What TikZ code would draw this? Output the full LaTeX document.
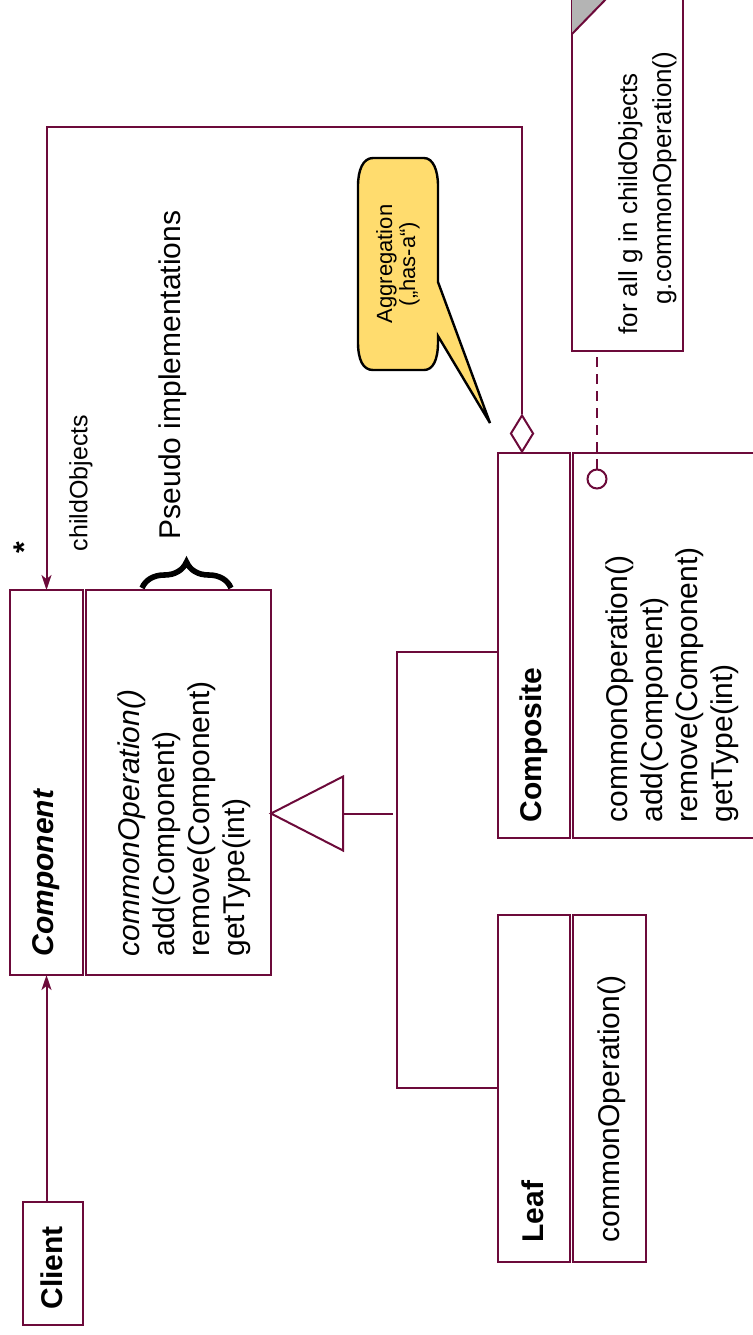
\documentclass[tikz,border=0pt]{standalone}
\usepackage{fontspec}
\setmainfont{Liberation Sans}
\usetikzlibrary{arrows.meta,shapes.geometric,decorations.pathreplacing}
\definecolor{umlred}{RGB}{108,10,58}
\definecolor{calloutyellow}{RGB}{255,220,110}
\definecolor{foldgray}{RGB}{180,180,180}
\begin{document}
\begin{tikzpicture}[x=0.5pt, y=-0.5pt,
  umlbox/.style={shape=rectangle, draw=umlred, line width=1pt, fill=white, inner sep=0pt, outer sep=0pt},
  umltitle/.style={rotate=90, anchor=west, inner sep=0pt, font=\fontsize{15}{18}\selectfont\bfseries},
  umlops/.style={rotate=90, anchor=north west, inner sep=0pt, align=left, font=\fontsize{15}{17.5}\selectfont},
  umlline/.style={draw=umlred, line width=1pt},
  umlarrow/.style={umlline, -{Stealth[length=7.5pt, width=5pt, inset=2pt]}}]
\useasboundingbox (0,0) rectangle (753,1335);
\clip (0,0) rectangle (753,1335);
\node[umlbox, minimum width=36.5pt, minimum height=192.5pt] (cmpName) at (46.5,782.5) {};
\node[umlbox, minimum width=92.5pt, minimum height=192.5pt] (cmpOps) at (178.5,782.5) {};
\node[umlbox, minimum width=36pt, minimum height=192.5pt] (cpsName) at (534,645.5) {};
\node[umlbox, minimum width=93.5pt, minimum height=192.5pt] (cpsOps) at (666.5,645.5) {};
\node[umlbox, minimum width=36pt, minimum height=173.5pt] (leafName) at (534,1088.5) {};
\node[umlbox, minimum width=36.5pt, minimum height=173.5pt] (leafOps) at (609.5,1088.5) {};
\node[umlbox, minimum width=30pt, minimum height=61.5pt] (client) at (53,1263.5) {};
\node[umlbox, minimum width=55.5pt, minimum height=176.5pt] (note) at (627.5,174.5) {};
\node[umltitle] (cmpTitle) at (46.5,957) {\itshape Component};
\node[umltitle] (cpsTitle) at (534,823) {Composite};
\node[umltitle] (leafTitle) at (533,1243) {Leaf};
\node[umltitle] (clientTitle) at (52,1310) {Client};
\node[umlops] (cmpList) at (117,957) {\itshape commonOperation()\\add(Component)\\remove(Component)\\getType(int)};
\node[umlops] (cpsList) at (605,823) {commonOperation()\\add(Component)\\remove(Component)\\getType(int)};
\node[umlops] (leafList) at (597,1243) {commonOperation()};
\fill[foldgray] (572,-2) -- (607,-2) -- (572,34) -- cycle;
\draw[umlline] (607,-2) -- (572,34);
\node[rotate=90, anchor=north west, inner sep=0pt, align=left, font=\fontsize{13}{17}\selectfont] (noteText) at (618,335) {for all g in childObjects\\\hspace*{15pt}g.commonOperation()};
\node[shape=circle, draw=umlred, line width=1pt, fill=white, minimum size=9.5pt, inner sep=0pt] (cpsPort) at (597,479) {};
\draw[umlline, dash pattern=on 5pt off 3.5pt] (cpsPort) -- (note.south -| cpsPort);
\node[shape=diamond, draw=umlred, line width=1pt, fill=white, minimum width=11.5pt, minimum height=18.5pt, inner sep=0pt] (aggDiamond) at (522,433.5) {};
\coordinate (aggCorner) at (522,127);
\draw[umlarrow] (aggDiamond.north) -- (aggCorner) -| (cmpName.north);
\draw[umlarrow] (client.north -| cmpName.south) -- (cmpName.south);
\coordinate (genApex) at (271,813.5);
\coordinate (genBase) at (343,813.5);
\coordinate (hubMid) at (393,813.5);
\coordinate (hubTop) at (397,652);
\coordinate (hubBot) at (397,1088);
\draw[umlline, fill=white] (genApex) -- (343,776.5) -- (343,850.5) -- cycle;
\draw[umlline] (genBase) -- (hubMid);
\draw[umlline] (cpsName.west |- hubTop) -- (hubTop) -- (hubBot) -- (leafName.west |- hubBot);
\node[rotate=90, inner sep=0pt, font=\fontsize{12.5}{14}\selectfont] (childLbl) at (81,483) {childObjects};
\node[rotate=90, inner sep=0pt, font=\fontsize{15}{15}\selectfont\bfseries] (multLbl) at (24.5,548) {*};
\node[rotate=90, inner sep=0pt, font=\fontsize{15}{18}\selectfont] (pseudoLbl) at (172.5,375) {Pseudo implementations};
\draw[decorate, decoration={brace, amplitude=13pt}, line width=2.8pt] (142,588) -- (231,588);
\draw[line width=1.2pt, fill=calloutyellow] (373,158) -- (424,158) .. controls (433,158) and (438,170) .. (438,186) -- (438,282) -- (490,423) -- (438,336) -- (438,342) .. controls (438,360) and (433,370) .. (424,370) -- (373,370) .. controls (363,370) and (358,360) .. (358,342) -- (358,186) .. controls (358,170) and (363,158) .. (373,158) -- cycle;
\node[rotate=90, inner sep=0pt, align=center, font=\fontsize{11}{11.5}\selectfont] (aggNote) at (398,264) {Aggregation\\(„has-a“)};
\end{tikzpicture}
\end{document}
